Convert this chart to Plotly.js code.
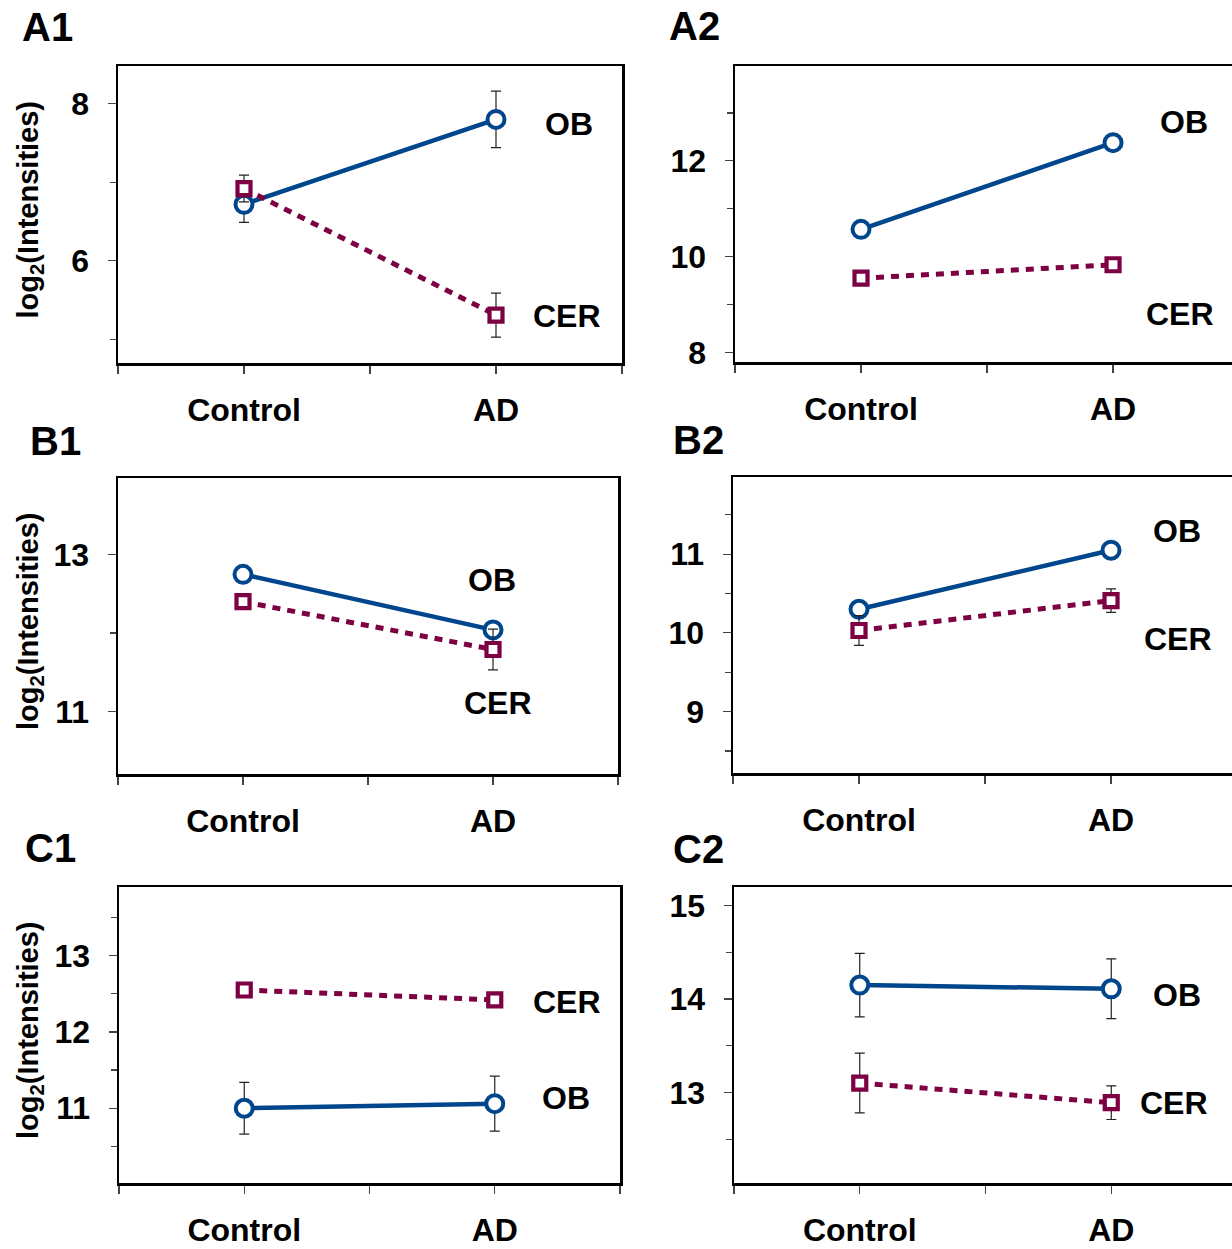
<!DOCTYPE html>
<html>
<head>
<meta charset="utf-8">
<script src="https://cdn.plot.ly/plotly-3.0.1.min.js"></script>
<style>
  html, body { margin: 0; padding: 0; background: #fff; }
  #chart { width: 1232px; height: 1249px; }
</style>
</head>
<body>
<div id="chart"></div>
<script>
// ---------- data ----------
const categories = ['Control', 'AD'];
const catPos = [1, 3];

const A1_OB = [6.72, 7.80];   const A1_OB_ERR = [0.23, 0.36];
const A1_CER = [6.92, 5.31];  const A1_CER_ERR = [0.17, 0.28];

const A2_OB = [10.57, 12.38]; const A2_OB_ERR = [0, 0];
const A2_CER = [9.55, 9.83];  const A2_CER_ERR = [0, 0];

const B1_OB = [12.75, 12.04]; const B1_OB_ERR = [0, 0];
const B1_CER = [12.40, 11.79]; const B1_CER_ERR = [0, 0.26];

const B2_OB = [10.30, 11.05]; const B2_OB_ERR = [0, 0];
const B2_CER = [10.03, 10.41]; const B2_CER_ERR = [0.19, 0.15];

const C1_OB = [11.00, 11.06]; const C1_OB_ERR = [0.34, 0.36];
const C1_CER = [12.55, 12.42]; const C1_CER_ERR = [0, 0];

const C2_OB = [14.15, 14.11]; const C2_OB_ERR = [0.34, 0.32];
const C2_CER = [13.10, 12.89]; const C2_CER_ERR = [0.32, 0.18];

const seriesNames = ['OB', 'CER'];
const panelNames = ['A1', 'A2', 'B1', 'B2', 'C1', 'C2'];

// ---------- styling ----------
const FONT = '"Liberation Sans", Arial, Helvetica, sans-serif';
const BLUE = '#00468C';
const MAROON = '#7D0042';
const W = 1232, H = 1249;

const panelData = [
  {ob: A1_OB, obE: A1_OB_ERR, cer: A1_CER, cerE: A1_CER_ERR},
  {ob: A2_OB, obE: A2_OB_ERR, cer: A2_CER, cerE: A2_CER_ERR},
  {ob: B1_OB, obE: B1_OB_ERR, cer: B1_CER, cerE: B1_CER_ERR},
  {ob: B2_OB, obE: B2_OB_ERR, cer: B2_CER, cerE: B2_CER_ERR},
  {ob: C1_OB, obE: C1_OB_ERR, cer: C1_CER, cerE: C1_CER_ERR},
  {ob: C2_OB, obE: C2_OB_ERR, cer: C2_CER, cerE: C2_CER_ERR}
];

// layout geometry (pixel boxes) and axis setup per panel
const geom = [
  {l: 118, r: 622, t: 66, b: 363, xr: [0, 4], yr: [4.7, 8.48], dt: 2, t0: 0, mdt: 1, right: false,
   lab: [[3.58, 7.74], [3.56, 5.30]], pl: [47, 27]},
  {l: 735, r: 1232, t: 66, b: 362, xr: [0, 3.944], yr: [7.8, 13.98], dt: 2, t0: 0, mdt: 1, right: true,
   lab: [[3.56, 12.82], [3.53, 8.80]], pl: [694, 26]},
  {l: 118, r: 618, t: 478, b: 774, xr: [0, 4], yr: [10.2, 13.98], dt: 2, t0: 1, mdt: 1, right: false,
   lab: [[2.99, 12.68], [3.04, 11.11]], pl: [55, 441]},
  {l: 733, r: 1232, t: 477, b: 773, xr: [0, 3.96], yr: [8.22, 11.98], dt: 1, t0: 0, mdt: 0.5, right: true,
   lab: [[3.52, 11.29], [3.53, 9.92]], pl: [698, 440]},
  {l: 119, r: 620, t: 887, b: 1183, xr: [0, 4], yr: [10.02, 13.9], dt: 1, t0: 0, mdt: 0.5, right: false,
   lab: [[3.57, 11.13], [3.58, 12.39]], pl: [50, 848]},
  {l: 734, r: 1232, t: 887, b: 1183, xr: [0, 3.96], yr: [12.03, 15.2], dt: 1, t0: 0, mdt: 0.5, right: true,
   lab: [[3.52, 14.04], [3.50, 12.89]], pl: [698, 849]}
];

const traces = [];
const layout = {
  width: W, height: H,
  margin: {l: 0, r: 0, t: 0, b: 0},
  paper_bgcolor: '#fff', plot_bgcolor: '#fff',
  showlegend: false,
  font: {family: FONT, color: '#000'},
  annotations: []
};

const tickFont = {family: FONT, size: 32, weight: 700, color: '#000'};

geom.forEach((g, i) => {
  const n = i + 1;
  const xa = n === 1 ? 'x' : 'x' + n;
  const ya = n === 1 ? 'y' : 'y' + n;
  const d = panelData[i];

  const errStyle = (arr) => ({type: 'data', array: arr, visible: true, color: '#222', thickness: 1.2, width: 5});

  traces.push({
    type: 'scatter', mode: 'lines+markers', name: seriesNames[0],
    x: catPos, y: d.ob, xaxis: xa, yaxis: ya,
    error_y: errStyle(d.obE),
    line: {color: BLUE, width: 4.5},
    marker: {symbol: 'circle', size: 17, color: '#fff', line: {color: BLUE, width: 4}},
    cliponaxis: false
  });
  traces.push({
    type: 'scatter', mode: 'lines+markers', name: seriesNames[1],
    x: catPos, y: d.cer, xaxis: xa, yaxis: ya,
    error_y: errStyle(d.cerE),
    line: {color: MAROON, width: 5, dash: '8px,7px'},
    marker: {symbol: 'square', size: 13, color: '#fff', line: {color: MAROON, width: 4.2}},
    cliponaxis: false
  });

  const xKey = n === 1 ? 'xaxis' : 'xaxis' + n;
  const yKey = n === 1 ? 'yaxis' : 'yaxis' + n;
  layout[xKey] = {
    domain: [g.l / W, g.r / W], range: g.xr, anchor: ya,
    tickmode: 'array', tickvals: [0, 1, 2, 3, 4],
    ticktext: ['', categories[0], '', categories[1], ''],
    ticks: 'outside', ticklen: 8, tickwidth: 1.2, tickcolor: '#444',
    showline: true, linecolor: '#000', linewidth: 2.5, mirror: true,
    showgrid: false, zeroline: false, tickfont: tickFont, ticklabelstandoff: 9
  };
  layout[yKey] = {
    domain: [1 - g.b / H, 1 - g.t / H], range: g.yr, anchor: xa,
    tick0: g.t0, dtick: g.dt,
    ticks: 'outside', ticklen: 8, tickwidth: 1.2, tickcolor: '#444',
    minor: {ticks: 'outside', ticklen: 6, tickwidth: 1.2, tickcolor: '#444', dtick: g.mdt, tick0: 0, showgrid: false},
    showline: true, linecolor: '#000', linewidth: 2.5, mirror: !g.right,
    showgrid: false, zeroline: false, tickfont: tickFont, ticklabelstandoff: 12
  };

  // series labels
  seriesNames.forEach((s, k) => {
    layout.annotations.push({
      xref: xa, yref: ya, x: g.lab[k][0], y: g.lab[k][1], text: s, showarrow: false,
      xanchor: 'center', yanchor: 'middle',
      font: {family: FONT, size: 32, weight: 700, color: '#000'}
    });
  });

  // panel label
  layout.annotations.push({
    xref: 'paper', yref: 'paper', x: g.pl[0] / W, y: 1 - g.pl[1] / H, text: panelNames[i],
    showarrow: false, xanchor: 'center', yanchor: 'middle',
    font: {family: FONT, size: 40, weight: 700, color: '#000'}
  });

  // y-axis title for left column
  if (!g.right) {
    layout.annotations.push({
      xref: 'paper', yref: 'paper', x: 30 / W, y: 1 - ((g.t + g.b) / 2 - 5) / H,
      text: 'log<sub>2</sub>(Intensities)', textangle: -90, showarrow: false,
      xanchor: 'center', yanchor: 'middle',
      font: {family: FONT, size: 29, weight: 700, color: '#000'}
    });
  }
});

Plotly.newPlot('chart', traces, layout, {staticPlot: true, displayModeBar: false});
</script>
</body>
</html>
